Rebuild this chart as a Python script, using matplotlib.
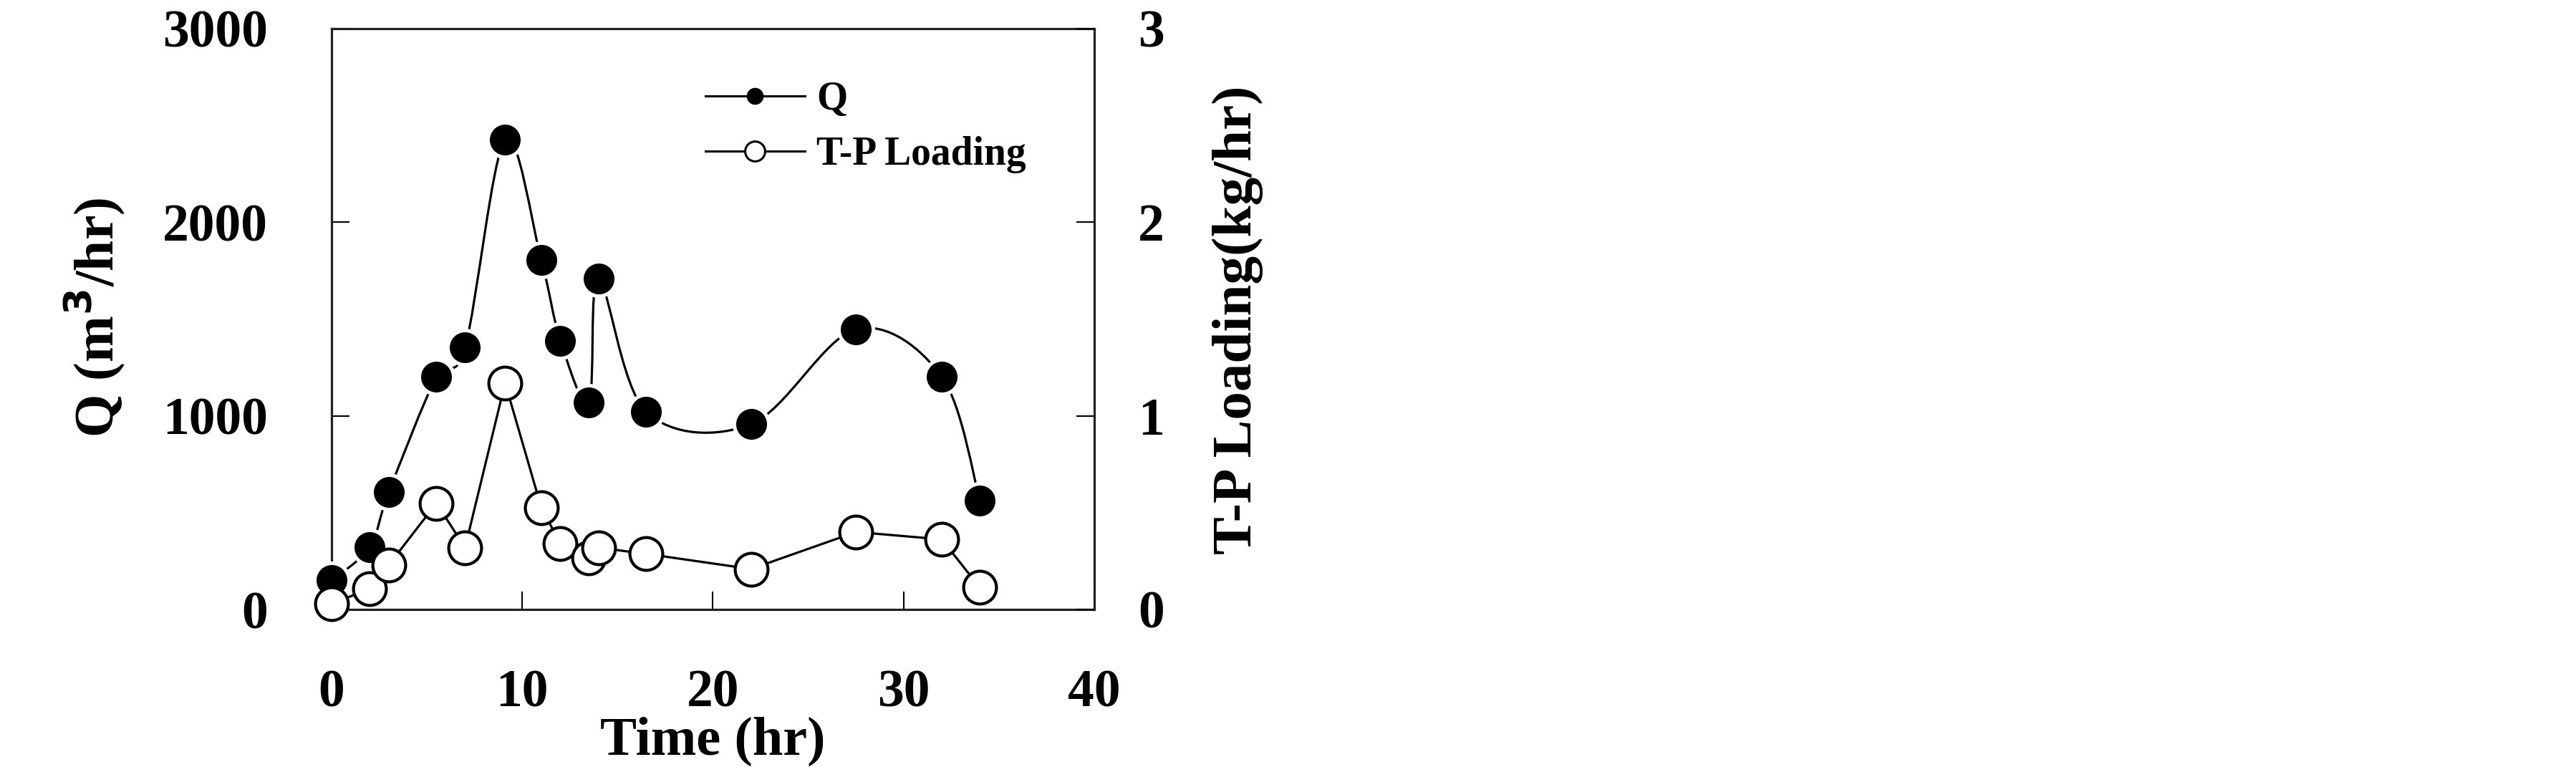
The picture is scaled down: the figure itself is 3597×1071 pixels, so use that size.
import numpy as np
import matplotlib
matplotlib.use("Agg")
import matplotlib.pyplot as plt
from matplotlib.path import Path
from matplotlib.patches import PathPatch
from matplotlib.lines import Line2D

# ---- data ----
time_hr = [0, 2, 3, 5.5, 7, 9.1, 11, 12, 13.5, 14, 16.5, 22, 27.5, 32, 34]
q_flow = [150, 323, 606, 1202, 1355, 2426, 1804, 1389, 1070, 1709, 1021, 957, 1447, 1202, 564]
tp_load = [0.03, 0.106, 0.23, 0.549, 0.319, 1.17, 0.526, 0.34, 0.266, 0.319, 0.287, 0.209, 0.40, 0.362, 0.113]
x_ticks = [0, 10, 20, 30, 40]
q_ticks = [0, 1000, 2000, 3000]
tp_ticks = [0, 1, 2, 3]

plt.rcParams['font.family'] = ['Liberation Serif', 'DejaVu Serif']
plt.rcParams['font.weight'] = 'bold'

W, H = 3598, 1071
fig = plt.figure(figsize=(W / 100, H / 100), dpi=100)
ax = fig.add_axes([463 / W, 1 - 851 / H, (1528 - 463) / W, (851 - 40) / H])
ax2 = ax.twinx()


def smooth_path(x, y, t=1 / 6):
    x = np.asarray(x, float)
    y = np.asarray(y, float)
    px = np.concatenate([[x[0]], x, [x[-1]]])
    py = np.concatenate([[y[0]], y, [y[-1]]])
    verts = [(x[0], y[0])]
    codes = [Path.MOVETO]
    for i in range(1, len(px) - 2):
        c1 = (px[i] + (px[i + 1] - px[i - 1]) * t, py[i] + (py[i + 1] - py[i - 1]) * t)
        c2 = (px[i + 1] - (px[i + 2] - px[i]) * t, py[i + 1] - (py[i + 2] - py[i]) * t)
        verts += [c1, c2, (px[i + 1], py[i + 1])]
        codes += [Path.CURVE4] * 3
    return Path(verts, codes)


lw = 2.3
# Q: smoothed curve + filled markers
ax.add_patch(PathPatch(smooth_path(time_hr, q_flow), facecolor='none',
                       edgecolor='black', lw=lw, zorder=2))
ax.plot(time_hr, q_flow, linestyle='none', marker='o', ms=34.6,
        mfc='black', mec='white', mew=3.6, zorder=3, clip_on=False)

# TP loading: straight lines, open markers
ax2.plot(time_hr, tp_load, color='black', lw=lw, marker='o', ms=33,
         mfc='white', mec='black', mew=3.0, zorder=3, clip_on=False)

ax.set_xlim(0, 40)
ax.set_ylim(0, 3000)
ax2.set_ylim(0, 3)
ax.set_xticks(x_ticks)
ax.set_yticks(q_ticks)
ax2.set_yticks(tp_ticks)
ax.set_xticklabels([str(v) for v in x_ticks])
ax.set_yticklabels([str(v) for v in q_ticks])
ax2.set_yticklabels([str(v) for v in tp_ticks])

for s in ax.spines.values():
    s.set_linewidth(2.3)
    s.set_color('#202020')
for s in ax2.spines.values():
    s.set_visible(False)

tick_fs = 53
ax.tick_params(axis='x', direction='in', length=18, width=1.5, pad=60,
               labelsize=tick_fs, top=False)
ax.tick_params(axis='y', direction='in', length=18, width=1.5, pad=64,
               labelsize=tick_fs, right=False)
ax2.tick_params(axis='y', direction='in', length=18, width=1.5, pad=44,
                labelsize=tick_fs, left=False, right=True)

ax.set_xlabel('Time (hr)', fontsize=55, fontweight='bold')
ax.xaxis.label.set_va('baseline')
ax.xaxis.set_label_coords(0.5, -0.25)

ax.set_ylabel('Q (m$^\\mathbf{3}$/hr)', fontsize=56, fontweight='bold')
ax.yaxis.label.set_va('center')
ax.yaxis.set_label_coords(-0.31, 0.503)

ax2.set_ylabel('T-P Loading(kg/hr)', fontsize=57, fontweight='bold', rotation=90)
ax2.yaxis.label.set_va('center')
ax2.yaxis.set_label_coords(1.188, 0.498)

handles = [
    Line2D([], [], color='black', lw=2.2, marker='o', ms=16, mfc='black', mec='black'),
    Line2D([], [], color='black', lw=2.2, marker='o', ms=20, mfc='white', mec='black', mew=2.2),
]
leg = ax2.legend(handles, ['Q', 'T-P Loading'], loc='upper left',
                 bbox_to_anchor=(0.49, 0.91), frameon=False, borderpad=0,
                 borderaxespad=0, handlelength=2.5, handletextpad=0.3,
                 labelspacing=0.45, prop={'family': 'Liberation Serif', 'weight': 'bold', 'size': 40})

fig.savefig('out.png', dpi=100, facecolor='white')
